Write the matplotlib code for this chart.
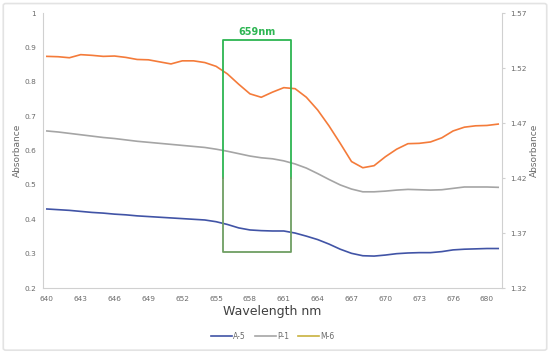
import matplotlib
matplotlib.use('Agg')
import matplotlib.pyplot as plt
from matplotlib.patches import FancyBboxPatch

# Wavelength (nm), one reading per nm
wavelength = list(range(640, 681))

a5 = [0.430, 0.428, 0.426, 0.423, 0.420, 0.418, 0.415, 0.413, 0.410, 0.408,
      0.406, 0.404, 0.402, 0.400, 0.398, 0.393, 0.385, 0.375, 0.369, 0.367,
      0.366, 0.366, 0.360, 0.351, 0.341, 0.328, 0.313, 0.301, 0.294, 0.293,
      0.296, 0.300, 0.302, 0.303, 0.303, 0.306, 0.311, 0.313, 0.314, 0.315,
      0.315]
p1 = [0.657, 0.654, 0.650, 0.646, 0.642, 0.638, 0.635, 0.631, 0.627, 0.624,
      0.621, 0.618, 0.615, 0.612, 0.609, 0.604, 0.598, 0.591, 0.584, 0.579,
      0.576, 0.570, 0.561, 0.549, 0.533, 0.516, 0.500, 0.488, 0.480, 0.480,
      0.482, 0.485, 0.487, 0.486, 0.485, 0.486, 0.490, 0.494, 0.494, 0.494,
      0.493]
m6 = [0.874, 0.873, 0.870, 0.879, 0.877, 0.874, 0.875, 0.871, 0.865, 0.864,
      0.858, 0.852, 0.861, 0.861, 0.856, 0.845, 0.823, 0.793, 0.765, 0.755,
      0.770, 0.783, 0.780, 0.755, 0.718, 0.672, 0.621, 0.568, 0.550, 0.556,
      0.582, 0.604, 0.620, 0.621, 0.625, 0.637, 0.657, 0.668, 0.672, 0.673,
      0.677]

tick_pos = list(range(640, 680, 3))
tick_labels = ['640', '643', '646', '649', '652', '655', '658', '661',
               '664', '667', '670', '673', '676', '680']
left_ticks = [0.2, 0.3, 0.4, 0.5, 0.6, 0.7, 0.8, 0.9, 1.0]
left_labels = ['0.2', '0.3', '0.4', '0.5', '0.6', '0.7', '0.8', '0.9', '1']
right_ticks = [1.32, 1.37, 1.42, 1.47, 1.52, 1.57]

BLUE = '#4154A6'
GRAY = '#A5A5A5'
ORANGE = '#F47B3A'
GREEN = '#2DB552'
TXT = '#6A6A6A'

fig = plt.figure(figsize=(5.5, 3.53), dpi=100)
fig.patches.append(FancyBboxPatch((0.006, 0.008), 0.988, 0.982,
                                  boxstyle='round,pad=0,rounding_size=0.005',
                                  transform=fig.transFigure, fill=False,
                                  edgecolor='#E3E3E3', linewidth=1.2))
ax = fig.add_axes([0.078, 0.184, 0.835, 0.779])

ax.plot(wavelength, a5, color=BLUE, linewidth=1.2, label='A-5')
ax.plot(wavelength, p1, color=GRAY, linewidth=1.2, label='P-1')
ax.plot(wavelength, m6, color=ORANGE, linewidth=1.2)
# legend entry for M-6 is drawn in olive in the original
ax.plot([], [], color='#C8B23E', linewidth=1.2, label='M-6')

# highlighted region
x0, x1, y0, y1 = 655.6, 661.6, 0.305, 0.921
ax.plot([x0, x0, x1, x1], [0.52, y1, y1, 0.52], color=GREEN, linewidth=1.3)
ax.plot([x0, x0, x1, x1], [0.52, y0, y0, 0.52], color='#6E9E62', linewidth=1.3)
ax.text((x0 + x1) / 2, 0.945, '659nm', color=GREEN, fontsize=7,
        fontweight='bold', ha='center', va='center')

ax.set_xlim(639.65, 680.35)
ax.set_ylim(0.2, 1.0)
ax.set_xticks(tick_pos)
ax.set_xticklabels(tick_labels)
ax.set_yticks(left_ticks)
ax.set_yticklabels(left_labels)
ax.tick_params(axis='x', labelsize=5.3, colors=TXT, length=0, pad=6)
ax.tick_params(axis='y', labelsize=5.3, colors=TXT, length=0, pad=5)

for s in ['top', 'right']:
    ax.spines[s].set_visible(False)
for s in ['left', 'bottom']:
    ax.spines[s].set_color('#D0D0D0')

ax.set_xlabel('Wavelength nm', fontsize=9, color='#404040', labelpad=2)
ax.set_ylabel('Absorbance', fontsize=6.5, color=TXT)
ax.yaxis.set_label_coords(-0.046, 0.5)

ax2 = ax.twinx()
ax2.set_ylim(1.32, 1.57)
ax2.set_yticks(right_ticks)
ax2.tick_params(axis='y', labelsize=5.3, colors=TXT, length=2, color='#D0D0D0', pad=4)
for s in ['top', 'left', 'bottom']:
    ax2.spines[s].set_visible(False)
ax2.spines['right'].set_color('#D0D0D0')
ax2.set_ylabel('Absorbance', fontsize=6.5, color=TXT, rotation=90)
ax2.yaxis.set_label_coords(1.06, 0.5)

ax.legend(loc='upper center', bbox_to_anchor=(0.5, -0.135), ncol=3,
          frameon=False, fontsize=5.5, handlelength=2.8, columnspacing=1.2,
          handletextpad=0.1, labelcolor=TXT)

plt.savefig('out.png', dpi=100)
plt.close()
